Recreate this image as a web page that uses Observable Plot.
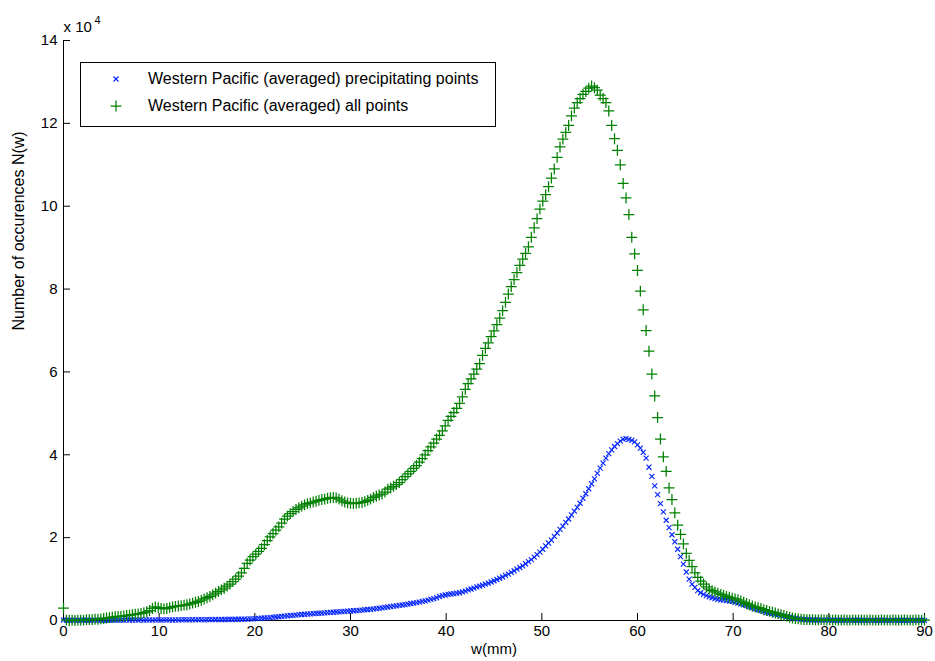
<!DOCTYPE html>
<html>
<head>
<meta charset="utf-8">
<script src="https://cdn.jsdelivr.net/npm/d3@7"></script>
<script src="https://cdn.jsdelivr.net/npm/@observablehq/plot@0.6"></script>
<style>
  html, body { margin: 0; padding: 0; background: #fff; }
  #wrap { position: relative; width: 935px; height: 661px; font-family: "Liberation Sans", Arial, sans-serif; }
  #legend { position: absolute; left: 80px; top: 62px; width: 414px; height: 63px; border: 1px solid #000; background: #fff; }
  .row { position: absolute; left: 0; height: 20px; font-size: 16px; line-height: 20px; color: #000; }
  .row svg { position: absolute; left: 26px; top: 1px; }
  .row span { position: absolute; left: 67px; white-space: nowrap; }
</style>
</head>
<body>
<div id="wrap">
  <div id="chart"></div>
  <div id="legend"></div>
</div>
<script>
// bin width (mm); values below are in units of 10^4 occurrences
const wStep = 0.3;

// Western Pacific (averaged) precipitating points, bins 0, 0.3, ..., 90 mm
const precipPoints = [
  0.01, 0.01, 0.005, 0.01, 0.01, 0.005, 0.01, 0.01, 0.01, 0.005,
  0.01, 0.01, 0.01, 0.01, 0.005, 0.01, 0.01, 0.01, 0.01, 0.01,
  0.01, 0.01, 0.015, 0.01, 0.01, 0.015, 0.01, 0.015, 0.01, 0.015,
  0.015, 0.01, 0.015, 0.015, 0.01, 0.015, 0.015, 0.015, 0.01, 0.015,
  0.015, 0.015, 0.02, 0.015, 0.015, 0.02, 0.015, 0.02, 0.02, 0.015,
  0.02, 0.02, 0.02, 0.025, 0.02, 0.025, 0.025, 0.025, 0.03, 0.025,
  0.03, 0.03, 0.03, 0.035, 0.035, 0.04, 0.04, 0.045, 0.05, 0.055,
  0.06, 0.065, 0.07, 0.08, 0.085, 0.09, 0.10, 0.105, 0.11, 0.12,
  0.125, 0.13, 0.14, 0.145, 0.15, 0.155, 0.16, 0.165, 0.17, 0.175, 0.18,
  0.185, 0.19, 0.195, 0.20, 0.205, 0.21, 0.215, 0.22, 0.225, 0.23,
  0.235, 0.24, 0.245, 0.25, 0.26, 0.265, 0.27, 0.28, 0.285, 0.295,
  0.305, 0.315, 0.325, 0.335, 0.345, 0.355, 0.365, 0.375, 0.385, 0.395,
  0.41, 0.42, 0.43, 0.445, 0.46, 0.475, 0.49, 0.51, 0.53, 0.55,
  0.58, 0.60, 0.615, 0.63, 0.64, 0.65, 0.66, 0.67, 0.69, 0.71,
  0.74, 0.76, 0.78, 0.81, 0.83, 0.85, 0.88, 0.90, 0.93, 0.96,
  0.99, 1.02, 1.05, 1.09, 1.12, 1.16, 1.20, 1.24, 1.28, 1.32,
  1.37, 1.42, 1.47, 1.53, 1.59, 1.65, 1.72, 1.80, 1.87, 1.94,
  2.03, 2.11, 2.20, 2.28, 2.37, 2.45, 2.55, 2.64, 2.73, 2.83,
  2.95, 3.06, 3.18, 3.30, 3.42, 3.55, 3.68, 3.80, 3.92, 4.03,
  4.12, 4.20, 4.27, 4.33, 4.38, 4.39, 4.37, 4.35, 4.31, 4.24,
  4.16, 4.06, 3.92, 3.70, 3.48, 3.25, 3.04, 2.82, 2.62, 2.42,
  2.24, 2.07, 1.90, 1.72, 1.54, 1.36, 1.17, 1.00, 0.88, 0.80,
  0.72, 0.67, 0.63, 0.60, 0.57, 0.55, 0.53, 0.51, 0.50, 0.49,
  0.48, 0.47, 0.46, 0.44, 0.42, 0.40, 0.38, 0.36, 0.33, 0.31,
  0.28, 0.26, 0.24, 0.22, 0.20, 0.18, 0.17, 0.15, 0.14, 0.12,
  0.11, 0.09, 0.08, 0.06, 0.05, 0.04, 0.03, 0.025, 0.02, 0.015,
  0.015, 0.01, 0.015, 0.01, 0.01, 0.015, 0.01, 0.01, 0.005, 0.01,
  0.01, 0.005, 0.01, 0.01, 0.005, 0.01, 0.01, 0.005, 0.01, 0.005,
  0.01, 0.005, 0.005, 0.01, 0.005, 0.01, 0.005, 0.005, 0.01, 0.005,
  0.005, 0.01, 0.005, 0.005, 0.01, 0.005, 0.005, 0.01, 0.005,
  0.005
];

// Western Pacific (averaged) all points, bins 0, 0.3, ..., 90 mm
const allPoints = [
  0.30, 0.01, 0.00, 0.01, 0.00, 0.01, 0.01, 0.01, 0.02, 0.02,
  0.02, 0.03, 0.03, 0.04, 0.05, 0.06, 0.07, 0.08, 0.09, 0.10,
  0.10, 0.11, 0.12, 0.13, 0.14, 0.15, 0.16, 0.17, 0.19, 0.21,
  0.24, 0.29, 0.33, 0.31, 0.29, 0.28, 0.29, 0.31, 0.33, 0.34,
  0.35, 0.36, 0.37, 0.38, 0.40, 0.42, 0.44, 0.46, 0.49, 0.52,
  0.55, 0.58, 0.62, 0.66, 0.70, 0.74, 0.78, 0.83, 0.88, 0.94,
  1.00, 1.07, 1.15, 1.26, 1.38, 1.46, 1.54, 1.60, 1.67, 1.74,
  1.83, 1.93, 2.02, 2.10, 2.18, 2.26, 2.35, 2.45, 2.52, 2.58,
  2.63, 2.68, 2.72, 2.76, 2.79, 2.82, 2.84, 2.86, 2.88, 2.90, 2.92,
  2.93, 2.95, 2.96, 2.97, 2.96, 2.93, 2.89, 2.86, 2.84, 2.83,
  2.82, 2.83, 2.84, 2.85, 2.87, 2.90, 2.93, 2.97, 3.00, 3.03,
  3.05, 3.10, 3.17, 3.20, 3.24, 3.28, 3.33, 3.40, 3.47, 3.54,
  3.60, 3.67, 3.74, 3.82, 3.91, 4.00, 4.10, 4.19, 4.28, 4.38,
  4.47, 4.58, 4.70, 4.83, 4.93, 5.02, 5.12, 5.24, 5.40, 5.58,
  5.72, 5.83, 5.95, 6.07, 6.20, 6.40, 6.57, 6.70, 6.85, 6.99,
  7.14, 7.30, 7.48, 7.68, 7.88, 8.06, 8.23, 8.40, 8.57, 8.72,
  8.86, 9.02, 9.25, 9.48, 9.70, 9.93, 10.12, 10.28, 10.47, 10.68,
  10.90, 11.18, 11.43, 11.62, 11.78, 11.95, 12.18, 12.37, 12.50, 12.60,
  12.70, 12.77, 12.85, 12.90, 12.86, 12.80, 12.68, 12.60, 12.50, 12.30,
  11.95, 11.63, 11.35, 11.00, 10.55, 10.20, 9.80, 9.25, 8.85, 8.45,
  7.95, 7.50, 7.00, 6.50, 5.95, 5.42, 4.90, 4.38, 3.95, 3.60,
  3.20, 2.92, 2.60, 2.30, 2.08, 1.85, 1.62, 1.45, 1.30, 1.15,
  1.04, 0.95, 0.88, 0.81, 0.76, 0.72, 0.69, 0.66, 0.63, 0.61,
  0.58, 0.56, 0.54, 0.52, 0.50, 0.47, 0.44, 0.41, 0.38, 0.35,
  0.33, 0.31, 0.29, 0.26, 0.24, 0.22, 0.20, 0.18, 0.16, 0.14,
  0.12, 0.10, 0.08, 0.06, 0.05, 0.04, 0.03, 0.025, 0.02, 0.02,
  0.02, 0.015, 0.015, 0.02, 0.015, 0.01, 0.015, 0.01, 0.015, 0.01,
  0.01, 0.015, 0.01, 0.01, 0.015, 0.01, 0.01, 0.015, 0.01, 0.01,
  0.015, 0.01, 0.01, 0.01, 0.015, 0.01, 0.01, 0.01, 0.015, 0.01,
  0.01, 0.01, 0.015, 0.01, 0.01, 0.01, 0.015, 0.01, 0.01,
  0.01
];

const xTicks = [0, 10, 20, 30, 40, 50, 60, 70, 80, 90];
const yTicks = [0, 2, 4, 6, 8, 10, 12, 14];
const seriesNames = [
  "Western Pacific (averaged) precipitating points",
  "Western Pacific (averaged) all points"
];
const seriesColors = ["#0626ff", "#008000"];

const precipData = precipPoints.map((v, i) => ({w: +(i * wStep).toFixed(1), n: v}));
const allData = allPoints.map((v, i) => ({w: +(i * wStep).toFixed(1), n: v}));

const font = "'Liberation Sans', Arial, Helvetica, sans-serif";

const chart = Plot.plot({
  width: 935,
  height: 661,
  marginLeft: 63,
  marginRight: 11,
  marginTop: 40,
  marginBottom: 41,
  style: {fontFamily: font, fontSize: "15px", background: "#fff", color: "#000"},
  x: {domain: [0, 90]},
  y: {domain: [0, 14]},
  marks: [
    Plot.ruleY([0], {stroke: "#000", strokeWidth: 1}),
    Plot.ruleX([0], {stroke: "#000", strokeWidth: 1}),
    // inward ticks
    Plot.axisX(xTicks, {tickSize: 7, dy: -7, fill: "none", label: null, stroke: "#000"}),
    Plot.axisY(yTicks, {tickSize: 7, dx: 7, fill: "none", label: null, stroke: "#000"}),
    // tick labels
    Plot.axisX(xTicks, {tickSize: 0, tickPadding: 5, label: null, fontSize: 15, fill: "#000"}),
    Plot.axisY(yTicks, {tickSize: 0, tickPadding: 6, label: null, fontSize: 15, fill: "#000"}),
    Plot.dot(precipData, {x: "w", y: "n", symbol: "times", r: 2.4, stroke: seriesColors[0], strokeWidth: 1.15}),
    Plot.dot(allData, {x: "w", y: "n", symbol: "plus", r: 3.6, stroke: seriesColors[1], strokeWidth: 1.25}),
    Plot.text(["w(mm)"], {frameAnchor: "bottom", dy: 33, text: d => d, fontSize: 15, fill: "#000"}),
    Plot.text(["Number of occurences N(w)"], {frameAnchor: "left", dx: -45, rotate: -90, text: d => d, fontSize: 16, fill: "#000"}),
    Plot.text(["x 10"], {frameAnchor: "top-left", dx: 0, dy: -19, textAnchor: "start", text: d => d, fontSize: 15, fill: "#000"}),
    Plot.text(["4"], {frameAnchor: "top-left", dx: 31, dy: -24, textAnchor: "start", text: d => d, fontSize: 11, fill: "#000"})
  ]
});
document.getElementById("chart").appendChild(chart);

// legend (inside plot area, top-left)
const legend = d3.select("#legend");
const symbols = [d3.symbolTimes, d3.symbolPlus];
const sizes = [Math.PI * 2.4 * 2.4, Math.PI * 3.6 * 3.6];
const widths = [1.15, 1.25];
const rowTops = [6, 33];
seriesNames.forEach((name, i) => {
  const row = legend.append("div").attr("class", "row").style("top", rowTops[i] + "px");
  const s = row.append("svg").attr("width", 18).attr("height", 18);
  s.append("path").attr("transform", "translate(9,9)")
    .attr("d", d3.symbol(symbols[i], sizes[i])())
    .attr("fill", "none").attr("stroke", seriesColors[i]).attr("stroke-width", widths[i]);
  row.append("span").text(name);
});
</script>
</body>
</html>
